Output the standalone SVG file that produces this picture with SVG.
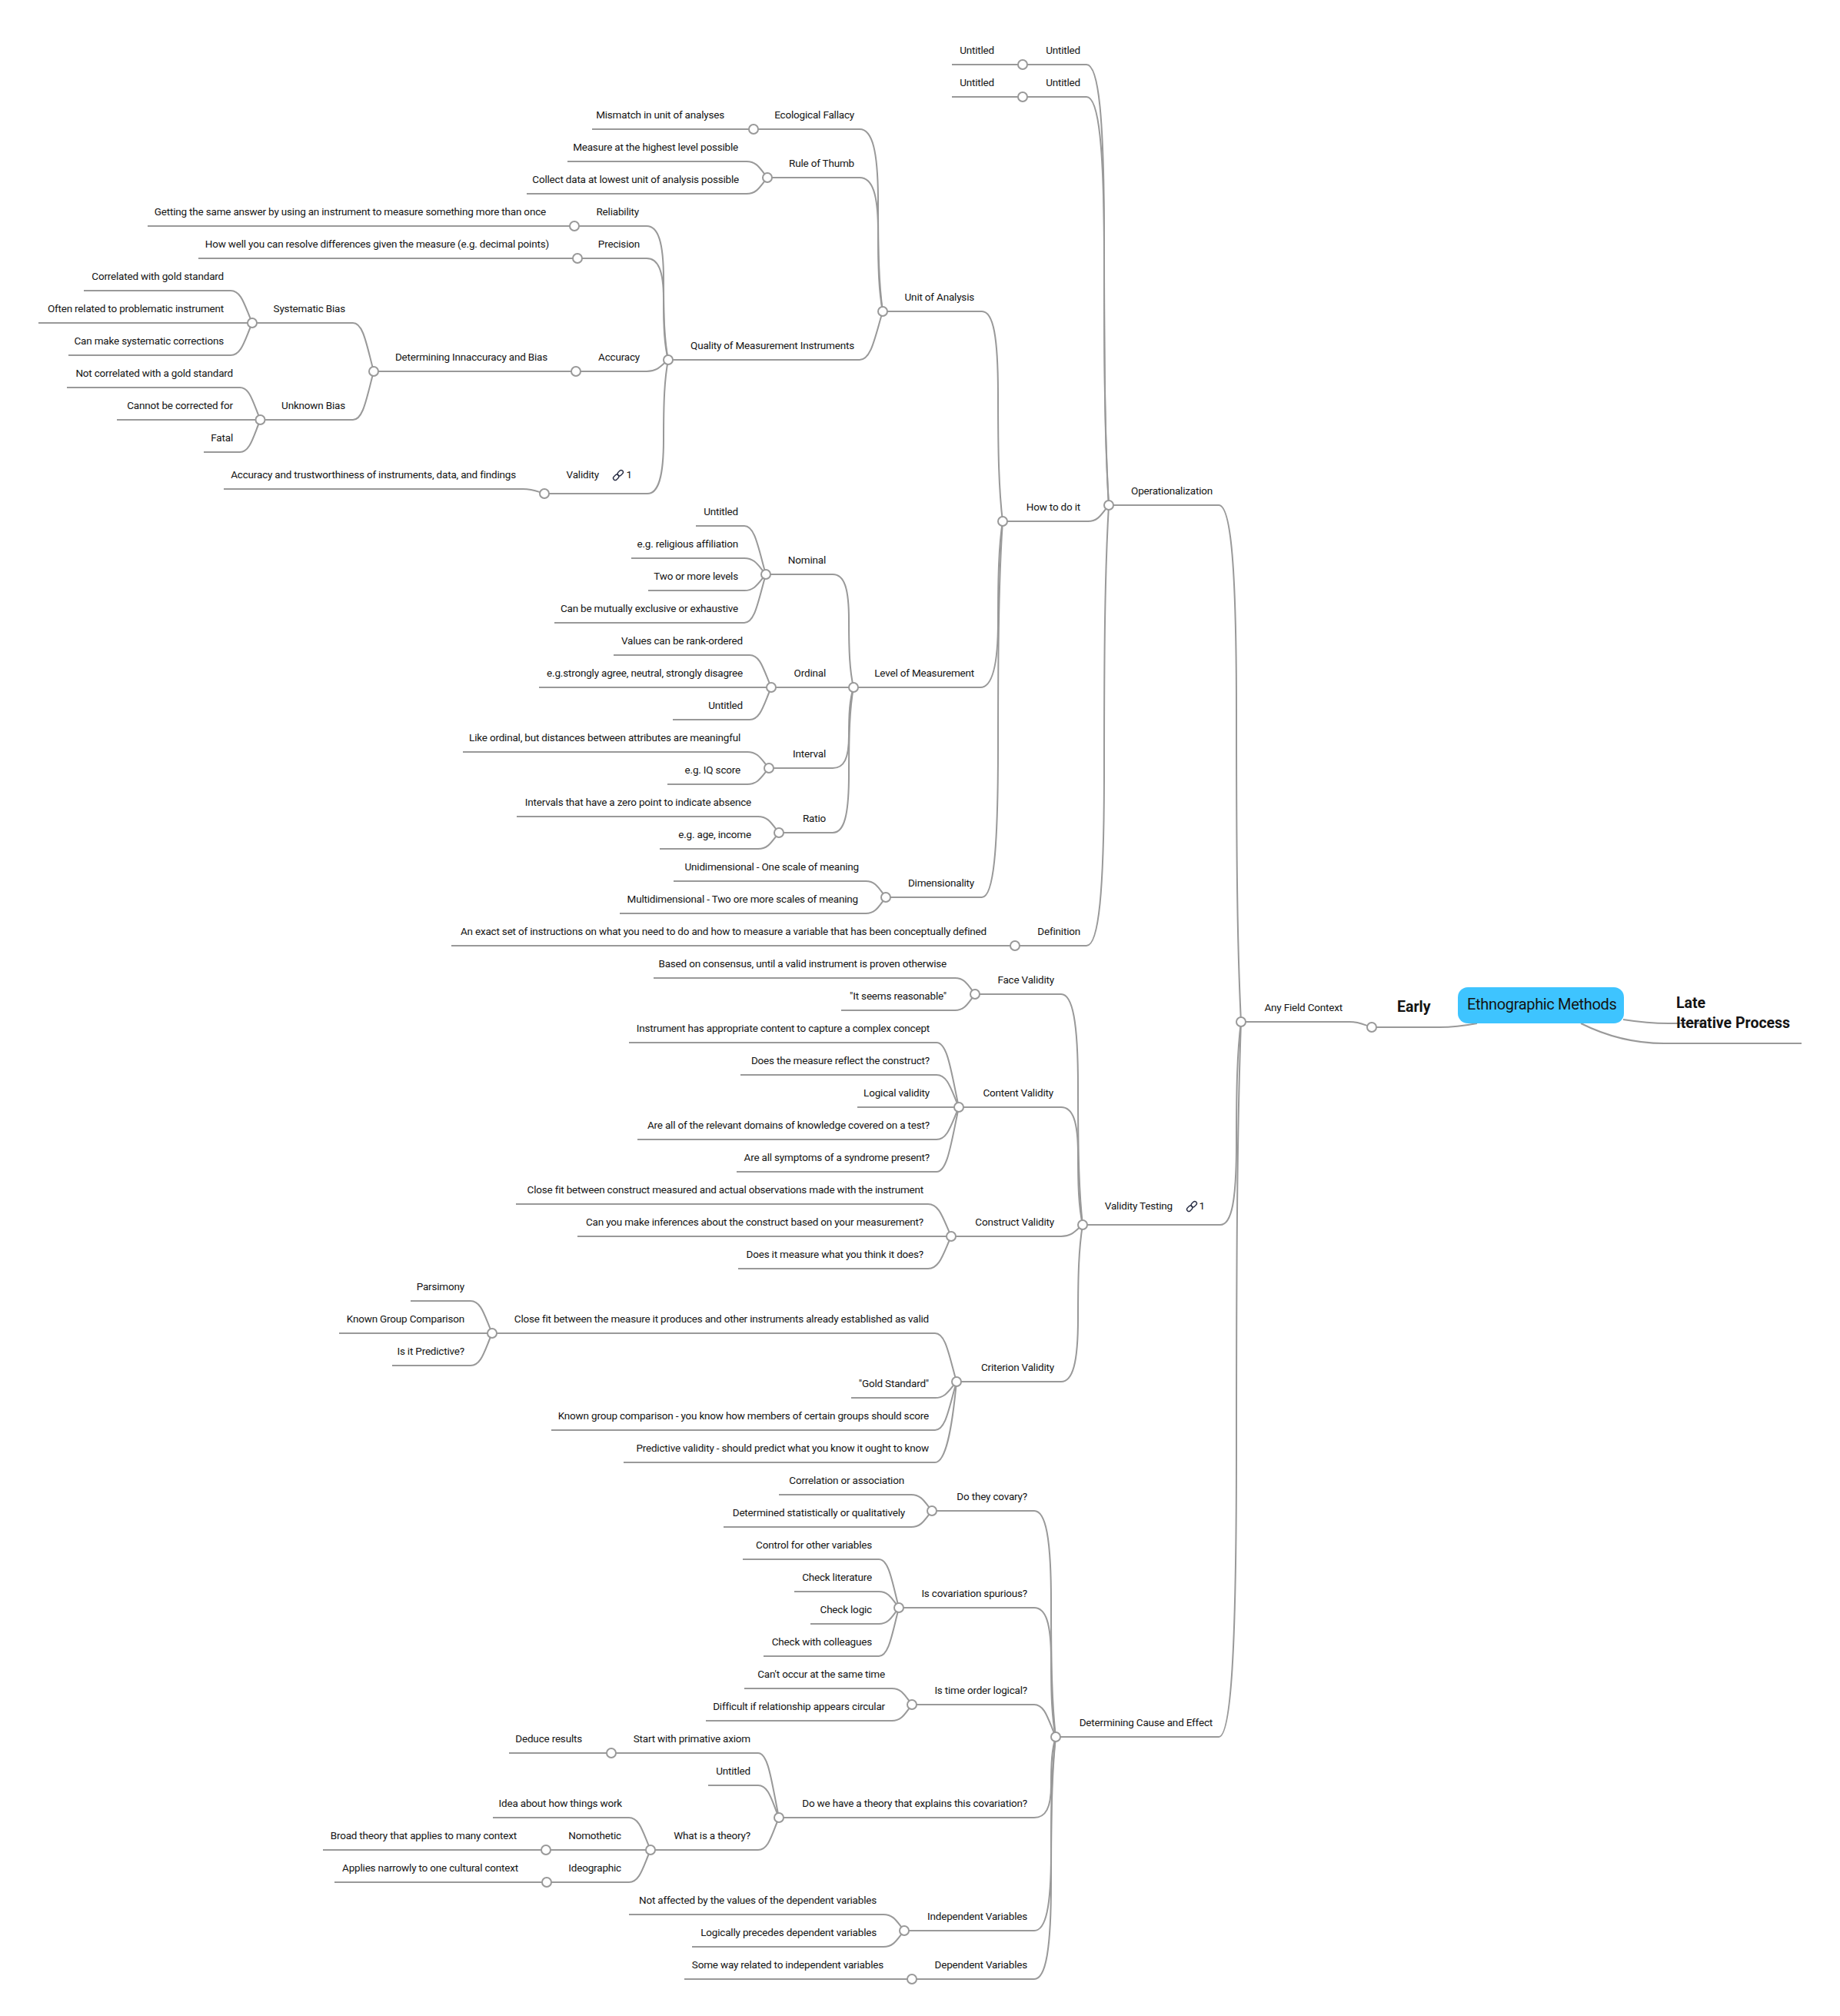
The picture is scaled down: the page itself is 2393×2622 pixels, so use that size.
<svg xmlns="http://www.w3.org/2000/svg" width="2393" height="2622" viewBox="0 0 2393 2622">
<style>
text{font-family:Roboto,"Noto Sans",sans-serif;fill:#141414}
.t{font-size:13.5px;letter-spacing:-.19px;text-anchor:end}
.b{font-size:19.5px;font-weight:700}
.m{font-size:20px;letter-spacing:-.33px}
.c{fill:#fff;stroke:#999;stroke-width:2}
#edges path{fill:none;stroke:#999;stroke-width:2}
.ic{fill:none;stroke:#2a2f45;stroke-width:1.4}
</style>
<defs>
<g id="link"><rect class="ic" x="-7" y="-2.6" width="8" height="5.2" rx="2.6" transform="rotate(-45) translate(-1 0)"/><rect class="ic" x="-1" y="-2.6" width="8" height="5.2" rx="2.6" transform="rotate(-45) translate(1 0)"/></g>
</defs>
<rect width="2393" height="2622" fill="#fff"/>
<g id="edges">
<path d="M1238 84H1413C1429 84 1436 153 1436 313S1437 571 1442 657"/>
<path d="M1238 126H1413C1429 126 1436 190 1436 338S1437 577 1442 657"/>
<path d="M1304 678H1415C1428.5 678 1432.5 668.5 1442 657"/>
<path d="M587 1230H1413C1429 1230 1436 1161 1436 1001S1437 743 1442 657"/>
<path d="M1148 405H1277C1292 405 1298 438 1298 514S1299 637 1304 678"/>
<path d="M1110 894H1275C1290 894 1298 868 1298 808S1299 710 1304 678"/>
<path d="M876 1146H1126C1139 1146 1143 1155.5 1152 1167"/>
<path d="M806 1188H1126C1139 1188 1143 1178.5 1152 1167"/>
<path d="M1152 1167H1277C1292 1167 1298 1108 1298 971S1299 751 1304 678"/>
<path d="M770 168H1118C1134.5 168 1142 196 1142 263S1143 369 1148 405"/>
<path d="M998 231H1118C1134.5 231 1142 252 1142 301S1143 379 1148 405"/>
<path d="M869 468H1118C1133 468 1137.5 439.6 1148 405"/>
<path d="M738 210H971C984.5 210 988.5 219.5 998 231"/>
<path d="M685 252H971C984.5 252 988.5 242.5 998 231"/>
<path d="M192 294H841C856 294 863 315 863 364S864 442 869 468"/>
<path d="M258 336H841C856 336 863 352 863 389S864 448 869 468"/>
<path d="M486 483H841C855 483 859 476 869 468"/>
<path d="M708 642H842C856 642 863 621 863 572S864 494 869 468"/>
<path d="M291 636H680C694 636 698 639 708 642"/>
<path d="M328 420H459C472.5 420 476.6 448 486 483"/>
<path d="M338.500 546H459C472.5 546 476.6 518 486 483"/>
<path d="M109 378H300C314 378 318 397 328 420"/>
<path d="M50 420H328"/>
<path d="M89 462H300C314 462 318 443 328 420"/>
<path d="M87 504H312C325 504 329 523 338.500 546"/>
<path d="M152 546H338.500"/>
<path d="M265 588H312C325 588 329 569 338.500 546"/>
<path d="M996 747H1083C1098 747 1104 765 1104 806S1105 872 1110 894"/>
<path d="M1003 894H1110"/>
<path d="M1000 999H1083C1098 999 1104 986 1104 957S1105 910 1110 894"/>
<path d="M1013 1083H1083C1098 1083 1104 1060 1104 1007S1105 922 1110 894"/>
<path d="M905 684H968C982 684 986 712 996 747"/>
<path d="M821 726H968C982 726 986 735.500 996 747"/>
<path d="M843 768H968C982 768 986 758.500 996 747"/>
<path d="M721 810H968C982 810 986 782 996 747"/>
<path d="M798 852H975C989 852 993 871 1003 894"/>
<path d="M701 894H1003"/>
<path d="M875 936H975C989 936 993 917 1003 894"/>
<path d="M602 978H972C986 978 990 987.500 1000 999"/>
<path d="M868 1020H972C986 1020 990 1010.500 1000 999"/>
<path d="M672 1062H986C999.500 1062 1003.500 1071.500 1013 1083"/>
<path d="M858 1104H986C999.500 1104 1003.500 1094.500 1013 1083"/>
<path d="M1442 657H1585C1601 657 1608 738 1608 926S1609 1228 1614 1329"/>
<path d="M1408 1593H1587C1602 1593 1608 1561 1608 1487S1609 1369 1614 1329"/>
<path d="M1373 2259H1585C1601 2259 1608 2147 1608 1887S1609 1468 1614 1329"/>
<path d="M1614 1329H1755C1769 1329 1774 1333 1784 1336"/>
<path d="M1784 1336H1872C1890 1336 1905 1334 1921 1331"/>
<path d="M2111 1326C2130 1329 2150 1331 2170 1331H2217"/>
<path d="M2056 1331C2090 1348 2125 1357 2164 1357H2343"/>
<path d="M1268 1293H1380C1395 1293 1402 1329 1402 1413S1403 1548 1408 1593"/>
<path d="M1247 1440H1380C1395 1440 1402 1458 1402 1501S1403 1570 1408 1593"/>
<path d="M1237 1608H1380C1394 1608 1398 1601 1408 1593"/>
<path d="M1244 1797H1380C1395 1797 1402 1773 1402 1715S1403 1624 1408 1593"/>
<path d="M850 1272H1242C1255 1272 1259 1281.500 1268 1293"/>
<path d="M1094 1314H1242C1255 1314 1259 1304.500 1268 1293"/>
<path d="M818 1356H1218C1232.500 1356 1237 1394 1247 1440"/>
<path d="M963 1398H1218C1232.500 1398 1237 1417 1247 1440"/>
<path d="M1115 1440H1247"/>
<path d="M829 1482H1218C1232.500 1482 1237 1463 1247 1440"/>
<path d="M958 1524H1218C1232.500 1524 1237 1486 1247 1440"/>
<path d="M671 1566H1207C1222 1566 1226.500 1585 1237 1608"/>
<path d="M751 1608H1237"/>
<path d="M960 1650H1207C1222 1650 1226.500 1631 1237 1608"/>
<path d="M640 1734H1216C1230 1734 1234 1762 1244 1797"/>
<path d="M1107 1818H1216C1230 1818 1234 1808.500 1244 1797"/>
<path d="M717 1860H1216C1230 1860 1234 1832 1244 1797"/>
<path d="M811 1902H1216C1230 1902 1238 1860 1244 1797"/>
<path d="M534 1692H612C626 1692 630 1711 640 1734"/>
<path d="M441 1734H640"/>
<path d="M510 1776H612C626 1776 630 1757 640 1734"/>
<path d="M1212 1965H1345C1360 1965 1367 2000 1367 2083S1368 2215 1373 2259"/>
<path d="M1169 2091H1345C1360 2091 1367 2111 1367 2158S1368 2234 1373 2259"/>
<path d="M1186 2217H1345C1359 2217 1363 2236 1373 2259"/>
<path d="M1013 2364H1345C1360 2364 1367 2351 1367 2322S1368 2275 1373 2259"/>
<path d="M1176 2511H1345C1360 2511 1367 2481 1367 2410S1368 2297 1373 2259"/>
<path d="M890 2574H1345C1360 2574 1367 2536 1367 2448S1368 2306 1373 2259"/>
<path d="M1013 1944H1185C1198.500 1944 1202.500 1953.500 1212 1965"/>
<path d="M941 1986H1185C1198.500 1986 1202.500 1976.500 1212 1965"/>
<path d="M966 2028H1143C1156 2028 1160 2056 1169 2091"/>
<path d="M1033 2070H1143C1156 2070 1160 2079.500 1169 2091"/>
<path d="M1054 2112H1143C1156 2112 1160 2102.500 1169 2091"/>
<path d="M993 2154H1143C1156 2154 1160 2126 1169 2091"/>
<path d="M968 2196H1160C1173 2196 1177 2205.500 1186 2217"/>
<path d="M918 2238H1160C1173 2238 1177 2228.500 1186 2217"/>
<path d="M662 2280H986C999.500 2280 1003.500 2318 1013 2364"/>
<path d="M921 2322H986C999.500 2322 1003.500 2341 1013 2364"/>
<path d="M846 2406H986C999.500 2406 1003.500 2387 1013 2364"/>
<path d="M641 2364H818C832 2364 836 2383 846 2406"/>
<path d="M420 2406H846"/>
<path d="M435 2448H818C832 2448 836 2429 846 2406"/>
<path d="M818 2490H1149C1162.500 2490 1166.500 2499.500 1176 2511"/>
<path d="M900 2532H1149C1162.500 2532 1166.500 2522.500 1176 2511"/>
</g>
<g id="root"><rect x="1896" y="1284" width="216" height="47" rx="13" fill="#3ec4ff"/><text class="m" x="1908" y="1313">Ethnographic Methods</text></g>
<g id="early"><text class="b" x="1817" y="1316">Early</text><circle class="c" cx="1784" cy="1336" r="6"/></g>
<g id="late"><text class="b" x="2180" y="1311">Late</text></g>
<g id="iterative"><text class="b" x="2180" y="1337">Iterative Process</text></g>
<g id="any-field"><text class="t" x="1746" y="1315">Any Field Context</text><circle class="c" cx="1614" cy="1329" r="6"/></g>
<g id="operationalization"><text class="t" x="1577" y="643">Operationalization</text><circle class="c" cx="1442" cy="657" r="6"/></g>
<g id="op-untitled-1"><text class="t" x="1405" y="70">Untitled</text><circle class="c" cx="1330" cy="84" r="6"/></g>
<g id="op-untitled-1a"><text class="t" x="1293" y="70">Untitled</text></g>
<g id="op-untitled-2"><text class="t" x="1405" y="112">Untitled</text><circle class="c" cx="1330" cy="126" r="6"/></g>
<g id="op-untitled-2a"><text class="t" x="1293" y="112">Untitled</text></g>
<g id="how-to"><text class="t" x="1405" y="664">How to do it</text><circle class="c" cx="1304" cy="678" r="6"/></g>
<g id="unit"><text class="t" x="1267" y="391">Unit of Analysis</text><circle class="c" cx="1148" cy="405" r="6"/></g>
<g id="eco"><text class="t" x="1111" y="154">Ecological Fallacy</text><circle class="c" cx="980" cy="168" r="6"/></g>
<g id="eco-1"><text class="t" x="942" y="154">Mismatch in unit of analyses</text></g>
<g id="thumb"><text class="t" x="1111" y="217">Rule of Thumb</text><circle class="c" cx="998" cy="231" r="6"/></g>
<g id="thumb-1"><text class="t" x="960" y="196">Measure at the highest level possible</text></g>
<g id="thumb-2"><text class="t" x="961" y="238">Collect data at lowest unit of analysis possible</text></g>
<g id="quality"><text class="t" x="1111" y="454">Quality of Measurement Instruments</text><circle class="c" cx="869" cy="468" r="6"/></g>
<g id="reliability"><text class="t" x="831" y="280">Reliability</text><circle class="c" cx="747" cy="294" r="6"/></g>
<g id="reliability-1"><text class="t" x="710" y="280">Getting the same answer by using an instrument to measure something more than once</text></g>
<g id="precision"><text class="t" x="832" y="322">Precision</text><circle class="c" cx="751" cy="336" r="6"/></g>
<g id="precision-1"><text class="t" x="714" y="322">How well you can resolve differences given the measure (e.g. decimal points)</text></g>
<g id="accuracy"><text class="t" x="832" y="469">Accuracy</text><circle class="c" cx="749" cy="483" r="6"/></g>
<g id="inaccuracy"><text class="t" x="712" y="469">Determining Innaccuracy and Bias</text><circle class="c" cx="486" cy="483" r="6"/></g>
<g id="systematic"><text class="t" x="449" y="406">Systematic Bias</text><circle class="c" cx="328" cy="420" r="6"/></g>
<g id="sys-1"><text class="t" x="291" y="364">Correlated with gold standard</text></g>
<g id="sys-2"><text class="t" x="291" y="406">Often related to problematic instrument</text></g>
<g id="sys-3"><text class="t" x="291" y="448">Can make systematic corrections</text></g>
<g id="unknown"><text class="t" x="449" y="532">Unknown Bias</text><circle class="c" cx="338.500" cy="546" r="6"/></g>
<g id="unk-1"><text class="t" x="303" y="490">Not correlated with a gold standard</text></g>
<g id="unk-2"><text class="t" x="303" y="532">Cannot be corrected for</text></g>
<g id="unk-3"><text class="t" x="303" y="574">Fatal</text></g>
<g id="validity"><text class="t" x="779" y="622">Validity</text><use href="#link" x="804" y="618"/><text class="t" x="822" y="622">1</text><circle class="c" cx="708" cy="642" r="6"/></g>
<g id="validity-1"><text class="t" x="671" y="622">Accuracy and trustworthiness of instruments, data, and findings</text></g>
<g id="level"><text class="t" x="1267" y="880">Level of Measurement</text><circle class="c" cx="1110" cy="894" r="6"/></g>
<g id="nominal"><text class="t" x="1074" y="733">Nominal</text><circle class="c" cx="996" cy="747" r="6"/></g>
<g id="nom-1"><text class="t" x="960" y="670">Untitled</text></g>
<g id="nom-2"><text class="t" x="960" y="712">e.g. religious affiliation</text></g>
<g id="nom-3"><text class="t" x="960" y="754">Two or more levels</text></g>
<g id="nom-4"><text class="t" x="960" y="796">Can be mutually exclusive or exhaustive</text></g>
<g id="ordinal"><text class="t" x="1074" y="880">Ordinal</text><circle class="c" cx="1003" cy="894" r="6"/></g>
<g id="ord-1"><text class="t" x="966" y="838">Values can be rank-ordered</text></g>
<g id="ord-2"><text class="t" x="966" y="880">e.g.strongly agree, neutral, strongly disagree</text></g>
<g id="ord-3"><text class="t" x="966" y="922">Untitled</text></g>
<g id="interval"><text class="t" x="1074" y="985">Interval</text><circle class="c" cx="1000" cy="999" r="6"/></g>
<g id="int-1"><text class="t" x="963" y="964">Like ordinal, but distances between attributes are meaningful</text></g>
<g id="int-2"><text class="t" x="963" y="1006">e.g. IQ score</text></g>
<g id="ratio"><text class="t" x="1074" y="1069">Ratio</text><circle class="c" cx="1013" cy="1083" r="6"/></g>
<g id="rat-1"><text class="t" x="977" y="1048">Intervals that have a zero point to indicate absence</text></g>
<g id="rat-2"><text class="t" x="977" y="1090">e.g. age, income</text></g>
<g id="dimension"><text class="t" x="1267" y="1153">Dimensionality</text><circle class="c" cx="1152" cy="1167" r="6"/></g>
<g id="dim-1"><text class="t" x="1117" y="1132">Unidimensional - One scale of meaning</text></g>
<g id="dim-2"><text class="t" x="1116" y="1174">Multidimensional - Two ore more scales of meaning</text></g>
<g id="definition"><text class="t" x="1405" y="1216">Definition</text><circle class="c" cx="1320" cy="1230" r="6"/></g>
<g id="def-1"><text class="t" x="1283" y="1216">An exact set of instructions on what you need to do and how to measure a variable that has been conceptually defined</text></g>
<g id="testing"><text class="t" x="1525" y="1573">Validity Testing</text><use href="#link" x="1550" y="1569"/><text class="t" x="1567" y="1573">1</text><circle class="c" cx="1408" cy="1593" r="6"/></g>
<g id="face"><text class="t" x="1371" y="1279">Face Validity</text><circle class="c" cx="1268" cy="1293" r="6"/></g>
<g id="face-1"><text class="t" x="1231" y="1258">Based on consensus, until a valid instrument is proven otherwise</text></g>
<g id="face-2"><text class="t" x="1231" y="1300">"It seems reasonable"</text></g>
<g id="content"><text class="t" x="1370" y="1426">Content Validity</text><circle class="c" cx="1247" cy="1440" r="6"/></g>
<g id="con-1"><text class="t" x="1209" y="1342">Instrument has appropriate content to capture a complex concept</text></g>
<g id="con-2"><text class="t" x="1209" y="1384">Does the measure reflect the construct?</text></g>
<g id="con-3"><text class="t" x="1209" y="1426">Logical validity</text></g>
<g id="con-4"><text class="t" x="1209" y="1468">Are all of the relevant domains of knowledge covered on a test?</text></g>
<g id="con-5"><text class="t" x="1209" y="1510">Are all symptoms of a syndrome present?</text></g>
<g id="construct"><text class="t" x="1371" y="1594">Construct Validity</text><circle class="c" cx="1237" cy="1608" r="6"/></g>
<g id="cons-1"><text class="t" x="1201" y="1552">Close fit between construct measured and actual observations made with the instrument</text></g>
<g id="cons-2"><text class="t" x="1201" y="1594">Can you make inferences about the construct based on your measurement?</text></g>
<g id="cons-3"><text class="t" x="1201" y="1636">Does it measure what you think it does?</text></g>
<g id="criterion"><text class="t" x="1371" y="1783">Criterion Validity</text><circle class="c" cx="1244" cy="1797" r="6"/></g>
<g id="cri-1"><text class="t" x="1208" y="1720">Close fit between the measure it produces and other instruments already established as valid</text><circle class="c" cx="640" cy="1734" r="6"/></g>
<g id="cri-1a"><text class="t" x="604" y="1678">Parsimony</text></g>
<g id="cri-1b"><text class="t" x="604" y="1720">Known Group Comparison</text></g>
<g id="cri-1c"><text class="t" x="604" y="1762">Is it Predictive?</text></g>
<g id="cri-2"><text class="t" x="1208" y="1804">"Gold Standard"</text></g>
<g id="cri-3"><text class="t" x="1208" y="1846">Known group comparison - you know how members of certain groups should score</text></g>
<g id="cri-4"><text class="t" x="1208" y="1888">Predictive validity - should predict what you know it ought to know</text></g>
<g id="cause"><text class="t" x="1577" y="2245">Determining Cause and Effect</text><circle class="c" cx="1373" cy="2259" r="6"/></g>
<g id="covary"><text class="t" x="1336" y="1951">Do they covary?</text><circle class="c" cx="1212" cy="1965" r="6"/></g>
<g id="cov-1"><text class="t" x="1176" y="1930">Correlation or association</text></g>
<g id="cov-2"><text class="t" x="1177" y="1972">Determined statistically or qualitatively</text></g>
<g id="spurious"><text class="t" x="1336" y="2077">Is covariation spurious?</text><circle class="c" cx="1169" cy="2091" r="6"/></g>
<g id="spu-1"><text class="t" x="1134" y="2014">Control for other variables</text></g>
<g id="spu-2"><text class="t" x="1134" y="2056">Check literature</text></g>
<g id="spu-3"><text class="t" x="1134" y="2098">Check logic</text></g>
<g id="spu-4"><text class="t" x="1134" y="2140">Check with colleagues</text></g>
<g id="time"><text class="t" x="1336" y="2203">Is time order logical?</text><circle class="c" cx="1186" cy="2217" r="6"/></g>
<g id="time-1"><text class="t" x="1151" y="2182">Can't occur at the same time</text></g>
<g id="time-2"><text class="t" x="1151" y="2224">Difficult if relationship appears circular</text></g>
<g id="theory"><text class="t" x="1336" y="2350">Do we have a theory that explains this covariation?</text><circle class="c" cx="1013" cy="2364" r="6"/></g>
<g id="axiom"><text class="t" x="976" y="2266">Start with primative axiom</text><circle class="c" cx="795" cy="2280" r="6"/></g>
<g id="axiom-1"><text class="t" x="757" y="2266">Deduce results</text></g>
<g id="the-untitled"><text class="t" x="976" y="2308">Untitled</text></g>
<g id="what"><text class="t" x="976" y="2392">What is a theory?</text><circle class="c" cx="846" cy="2406" r="6"/></g>
<g id="what-1"><text class="t" x="809" y="2350">Idea about how things work</text></g>
<g id="nomo"><text class="t" x="808" y="2392">Nomothetic</text><circle class="c" cx="710" cy="2406" r="6"/></g>
<g id="nomo-1"><text class="t" x="672" y="2392">Broad theory that applies to many context</text></g>
<g id="ideo"><text class="t" x="808" y="2434">Ideographic</text><circle class="c" cx="711" cy="2448" r="6"/></g>
<g id="ideo-1"><text class="t" x="674" y="2434">Applies narrowly to one cultural context</text></g>
<g id="independent"><text class="t" x="1336" y="2497">Independent Variables</text><circle class="c" cx="1176" cy="2511" r="6"/></g>
<g id="ind-1"><text class="t" x="1140" y="2476">Not affected by the values of the dependent variables</text></g>
<g id="ind-2"><text class="t" x="1140" y="2518">Logically precedes dependent variables</text></g>
<g id="dependent"><text class="t" x="1336" y="2560">Dependent Variables</text><circle class="c" cx="1186" cy="2574" r="6"/></g>
<g id="dep-1"><text class="t" x="1149" y="2560">Some way related to independent variables</text></g>
</svg>
